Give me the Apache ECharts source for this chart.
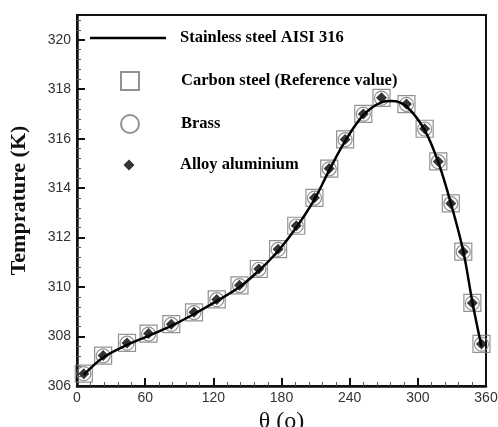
<!DOCTYPE html>
<html>
<head>
<meta charset="utf-8">
<script src="https://cdn.jsdelivr.net/npm/echarts@6/dist/echarts.min.js"></script>
<style>
  html, body { margin: 0; padding: 0; background: #fff; }
  #chart { width: 498px; height: 427px; }
</style>
</head>
<body>
<div id="chart"></div>
<script>
// measured points (theta in degrees, temperature in K)
const theta = [6, 23, 44, 63, 83, 103, 123, 143, 160, 177, 193, 209, 222, 236, 252, 268, 290, 306, 318, 329, 340, 348, 356]
const carbonSteel = [306.5, 307.23, 307.74, 308.12, 308.5, 308.98, 309.5, 310.07, 310.73, 311.53, 312.48, 313.61, 314.79, 315.97, 317.0, 317.65, 317.4, 316.4, 315.08, 313.38, 311.43, 309.36, 307.7]
const brass = [306.5, 307.22, 307.73, 308.1, 308.49, 308.97, 309.49, 310.06, 310.72, 311.52, 312.47, 313.6, 314.78, 315.96, 316.99, 317.64, 317.39, 316.39, 315.07, 313.37, 311.42, 309.35, 307.69]
const alloyAluminium = [306.5, 307.23, 307.74, 308.12, 308.5, 308.98, 309.5, 310.07, 310.73, 311.53, 312.48, 313.61, 314.79, 315.97, 317.0, 317.65, 317.4, 316.4, 315.08, 313.38, 311.43, 309.36, 307.7]

// stainless steel curve
const lineTheta = [6, 23, 44, 63, 83, 103, 123, 143, 160, 177, 193, 209, 222, 236, 252, 268, 277, 290, 306, 318, 329, 340, 348, 356]
const stainlessSteel = [306.45, 307.15, 307.66, 308.03, 308.43, 308.91, 309.43, 310.0, 310.66, 311.46, 312.41, 313.55, 314.72, 315.9, 316.95, 317.47, 317.52, 317.3, 316.35, 315.05, 313.4, 311.45, 309.4, 307.6]

const xTicks = [0, 60, 120, 180, 240, 300, 360]

const pairs = (xs, ys) => xs.map((x, i) => [x, ys[i]])

const chart = echarts.init(document.getElementById('chart'))

const legendText = {
  fontFamily: 'Liberation Serif',
  fontWeight: 'bold',
  fontSize: 16.5,
  color: '#000'
}

const option = {
  animation: false,
  grid: {
    left: 77,
    right: 12,
    top: 15,
    bottom: 41,
    outerBoundsMode: 'none',
    show: true,
    borderColor: '#111',
    borderWidth: 2
  },
  legend: [
    {
      data: [{ name: 'Stainless steel AISI 316', icon: 'rect', itemStyle: { color: '#000' } }],
      left: 90,
      top: 29.5,
      padding: 0,
      itemWidth: 76,
      itemHeight: 2.5,
      textStyle: Object.assign({ padding: [0, 0, 0, 9] }, legendText)
    },
    {
      data: ['Carbon steel (Reference value)', 'Brass'],
      orient: 'vertical',
      left: 120,
      top: 71,
      padding: 0,
      itemWidth: 18,
      itemHeight: 18,
      itemGap: 23,
      textStyle: Object.assign({ padding: [0, 0, 0, 37] }, legendText)
    },
    {
      data: ['Alloy aluminium'],
      left: 123.5,
      top: 156.5,
      padding: 0,
      itemWidth: 11,
      itemHeight: 11,
      textStyle: Object.assign({ padding: [0, 0, 0, 40.5] }, legendText)
    }
  ],
  xAxis: {
    type: 'value',
    min: xTicks[0],
    max: xTicks[xTicks.length - 1],
    interval: 60,
    name: 'θ (o)',
    nameLocation: 'middle',
    nameGap: 20,
    nameTextStyle: { fontFamily: 'Liberation Serif', fontSize: 24, color: '#111' },
    axisLine: { lineStyle: { color: '#111', width: 2.5 } },
    axisTick: { inside: true, length: 8, lineStyle: { color: '#111', width: 2 } },
    minorTick: { show: true, splitNumber: 5, length: 4, lineStyle: { color: '#555', width: 1 } },
    axisLabel: { margin: 5, fontFamily: 'Liberation Sans', fontSize: 14, color: '#333' },
    splitLine: { show: false }
  },
  yAxis: {
    type: 'value',
    min: 306,
    max: 321,
    interval: 2,
    name: 'Temprature (K)',
    nameLocation: 'middle',
    nameGap: 47,
    nameTextStyle: { fontFamily: 'Liberation Serif', fontWeight: 'bold', fontSize: 22, color: '#111' },
    axisLine: { lineStyle: { color: '#111', width: 2.5 } },
    axisTick: { inside: true, length: 8, lineStyle: { color: '#111', width: 2 } },
    minorTick: { show: true, splitNumber: 5, length: 4, lineStyle: { color: '#555', width: 1 } },
    axisLabel: { margin: 6, showMaxLabel: false, fontFamily: 'Liberation Sans', fontSize: 14, color: '#333' },
    splitLine: { show: false }
  },
  series: [
    {
      name: 'Carbon steel (Reference value)',
      type: 'scatter',
      symbol: 'rect',
      symbolSize: 17,
      z: 2,
      itemStyle: { color: 'transparent', borderColor: '#777', borderWidth: 1.2 },
      data: pairs(theta, carbonSteel)
    },
    {
      name: 'Brass',
      type: 'scatter',
      symbol: 'circle',
      symbolSize: 14,
      z: 3,
      itemStyle: { color: 'transparent', borderColor: '#777', borderWidth: 1.2 },
      data: pairs(theta, brass)
    },
    {
      name: 'Stainless steel AISI 316',
      type: 'line',
      smooth: 0.35,
      symbol: 'none',
      z: 4,
      itemStyle: { color: '#000' },
      lineStyle: { color: '#000', width: 2.5 },
      data: pairs(lineTheta, stainlessSteel)
    },
    {
      name: 'Alloy aluminium',
      type: 'scatter',
      symbol: 'diamond',
      symbolSize: 11,
      z: 5,
      itemStyle: { color: '#000' },
      data: pairs(theta, alloyAluminium)
    }
  ]
}

chart.setOption(option)
</script>
</body>
</html>
